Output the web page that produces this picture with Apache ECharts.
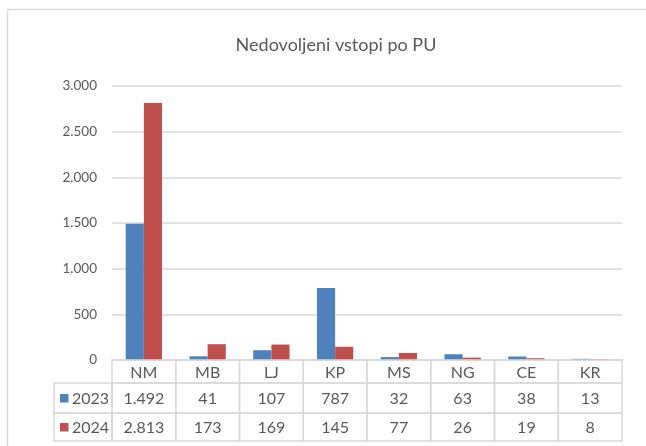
<!DOCTYPE html>
<html>
<head>
<meta charset="utf-8">
<script src="https://cdn.jsdelivr.net/npm/echarts@6/dist/echarts.min.js"></script>
<style>
html,body{margin:0;padding:0;background:#fff;}
#c{width:646px;height:446px;}
</style>
</head>
<body>
<div id="c"></div>
<script>
const categories = ['NM', 'MB', 'LJ', 'KP', 'MS', 'NG', 'CE', 'KR'];
const seriesNames = ['2023', '2024'];
const values2023 = [1492, 41, 107, 787, 32, 63, 38, 13];
const values2024 = [2813, 173, 169, 145, 77, 26, 19, 8];
const yTicks = { min: 0, max: 3000, interval: 500 };
const titleText = 'Nedovoljeni vstopi po PU';

const colors = ['#4F81BD', '#C0504D'];
const textColor = '#595959';
const lineColor = '#D9D9D9';
const fontFamily = 'Lato, "Open Sans", sans-serif';

function fmt(v) {
  return String(v).replace(/\B(?=(\d{3})+(?!\d))/g, '.');
}

const rowValues = [values2023, values2024];
// row geometry below the x baseline (pixels)
const headerH = 23;
const rowHs = [30, 28];
const legendColW = 58;

const chart = echarts.init(document.getElementById('c'), null, { renderer: 'canvas' });

function renderTable(params, api) {
  const i = api.value(0);
  const p = api.coord([i, 0]);
  const bw = api.size([1, 0])[0];
  const x0 = p[0] - bw / 2;
  const y0 = p[1];
  const children = [];
  const cellStyle = { fill: 'none', stroke: lineColor, lineWidth: 1.5 };
  const txtStyle = (txt, cx, cy, align) => ({
    type: 'text',
    style: {
      text: txt, x: cx, y: cy, align: align || 'center', verticalAlign: 'middle',
      fill: textColor, font: '16px ' + fontFamily
    },
    z2: 5
  });
  // header cell
  children.push({ type: 'rect', shape: { x: x0, y: y0, width: bw, height: headerH }, style: cellStyle });
  children.push(txtStyle(categories[i], p[0], y0 + headerH / 2 + 1));
  let y = y0 + headerH;
  for (let r = 0; r < rowValues.length; r++) {
    children.push({ type: 'rect', shape: { x: x0, y: y, width: bw, height: rowHs[r] }, style: cellStyle });
    children.push(txtStyle(fmt(rowValues[r][i]), p[0], y + rowHs[r] / 2 + 1));
    if (i === 0) {
      const lx = x0 - legendColW;
      children.push({ type: 'rect', shape: { x: lx, y: y, width: legendColW, height: rowHs[r] }, style: cellStyle });
      children.push({ type: 'rect', shape: { x: lx + 6, y: y + rowHs[r] / 2 - 4, width: 8.5, height: 8.5 }, style: { fill: colors[r] } });
      children.push(txtStyle(seriesNames[r], lx + 18, y + rowHs[r] / 2 + 1, 'left'));
    }
    y += rowHs[r];
  }
  return { type: 'group', children: children };
}

const option = {
  animation: false,
  backgroundColor: '#fff',
  title: {
    text: titleText,
    left: 331,
    top: 31,
    textAlign: 'center',
    textStyle: { color: textColor, fontSize: 18, fontWeight: 'normal', fontFamily: fontFamily }
  },
  graphic: [{
    type: 'rect',
    shape: { x: 7.5, y: 9.5, width: 800, height: 600 },
    style: { fill: 'none', stroke: lineColor, lineWidth: 1.5 },
    silent: true
  }],
  grid: { left: 112, right: 24, top: 86, bottom: 86, containLabel: false },
  xAxis: {
    type: 'category',
    data: categories,
    axisLine: { show: true, lineStyle: { color: lineColor, width: 1.5 } },
    axisTick: { show: false },
    axisLabel: { show: false },
    splitLine: { show: false }
  },
  yAxis: {
    type: 'value',
    min: yTicks.min,
    max: yTicks.max,
    interval: yTicks.interval,
    axisLine: { show: false },
    axisTick: { show: false },
    axisLabel: {
      color: textColor, fontSize: 13.5, fontFamily: fontFamily, margin: 15,
      formatter: v => fmt(v)
    },
    splitLine: { lineStyle: { color: lineColor, width: 1.5 } }
  },
  series: [
    {
      name: seriesNames[0], type: 'bar', data: values2023,
      itemStyle: { color: colors[0] }, barGap: '0%', barCategoryGap: '43%'
    },
    {
      name: seriesNames[1], type: 'bar', data: values2024,
      itemStyle: { color: colors[1] }, barGap: '0%', barCategoryGap: '43%'
    },
    {
      type: 'custom',
      renderItem: renderTable,
      clip: false,
      silent: true,
      data: categories.map((c, i) => [i, 0]),
      encode: { x: 0, y: 1 },
      z: 10
    }
  ]
};
chart.setOption(option);
</script>
</body>
</html>
